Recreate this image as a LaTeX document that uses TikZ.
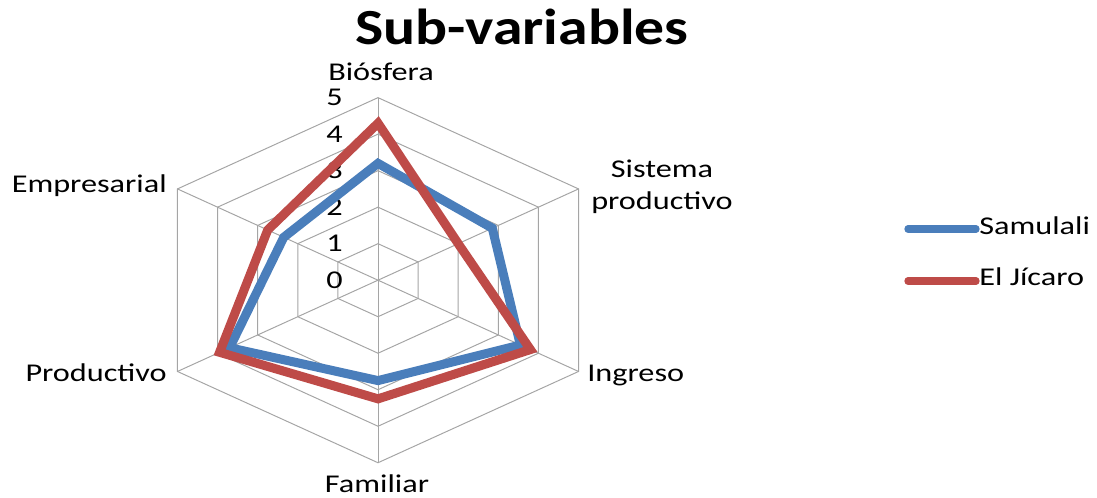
\documentclass[tikz,border=0pt]{standalone}
\usepackage{fontspec}
\setmainfont{Carlito}
\definecolor{samblue}{RGB}{74,126,187}
\definecolor{jicred}{RGB}{190,75,72}
\definecolor{gridgray}{RGB}{165,165,165}

\begin{document}
\begin{tikzpicture}[x=0.025cm, y=0.025cm]
\tikzstyle{lbl}=[font=\fontsize{18.2}{23}\selectfont, xscale=1.26, inner sep=0pt]
\tikzstyle{radargrid}=[gridgray, line width=0.7pt]
\tikzstyle{serie}=[line width=6.4pt]
\tikzstyle{legline}=[line width=5.2pt, line cap=round]
\useasboundingbox (0,0) rectangle (1097,498);

\node[font=\bfseries\fontsize{36}{40}\selectfont, xscale=1.18, inner sep=0pt, anchor=base] (title) at (522,453) {Sub-variables};

\begin{scope}[shift={(378,217.8)}, x=1.1575cm, y=0.9125cm]
% web
\foreach \r in {1,...,5}
  \draw[radargrid] (90:\r) -- (30:\r) -- (-30:\r) -- (-90:\r) -- (210:\r) -- (150:\r) -- cycle;
\foreach \a in {90,30,-30,-90,210,150}
  \draw[radargrid] (0,0) -- (\a:5);
\foreach \v in {0,...,5}
  \node[lbl, anchor=base east] (tick\v) at (-0.756,\v-0.22) {\v};

% Samulali
\coordinate (s1) at (90:3.2);
\coordinate (s2) at (30:2.85);
\coordinate (s3) at (-30:3.55);
\coordinate (s4) at (-90:2.75);
\coordinate (s5) at (210:3.7);
\coordinate (s6) at (150:2.35);
% El Jicaro
\coordinate (j1) at (90:4.3);
\coordinate (j2) at (30:2.0);
\coordinate (j3) at (-30:3.8);
\coordinate (j4) at (-90:3.25);
\coordinate (j5) at (210:3.95);
\coordinate (j6) at (150:2.75);

\draw[serie, samblue] (s1) -- (s2) -- (s3) -- (s4) -- (s5) -- (s6) -- cycle;
\draw[serie, jicred] (j1) -- (j2) -- (j3) -- (j4) -- (j5) -- (j6) -- cycle;
\end{scope}

\node[lbl, anchor=base] (bio) at (381,417) {Biósfera};
\node[lbl, anchor=base, align=center] (sis) at (662,288) {Sistema\\productivo};
\node[lbl, anchor=base west] (ing) at (587,116.3) {Ingreso};
\node[lbl, anchor=base] (fam) at (377,5) {Familiar};
\node[lbl, anchor=base east] (pro) at (167,116.3) {Productivo};
\node[lbl, anchor=base east] (emp) at (167,305.3) {Empresarial};

% legend
\node[lbl, anchor=base west] (samulali) at (979,263) {Samulali};
\node[lbl, anchor=base west] (jicaro) at (979,212) {El Jícaro};
\coordinate (ls0) at (908,269);
\coordinate (ls1) at (976,269);
\coordinate (lj0) at (908,217);
\coordinate (lj1) at (976,217);
\draw[legline, samblue] (ls0) -- (ls1);
\draw[legline, jicred] (lj0) -- (lj1);
\end{tikzpicture}
\end{document}
